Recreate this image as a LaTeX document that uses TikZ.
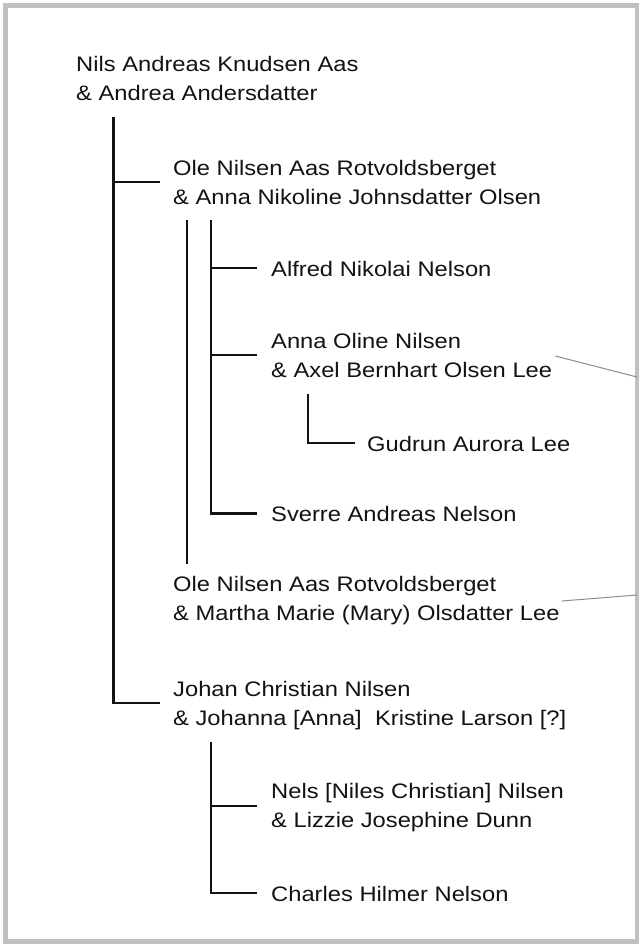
\documentclass[tikz,border=0pt]{standalone}
\usepackage{fontspec}
\setmainfont{Liberation Sans}[FakeStretch=1.13]
\definecolor{framegray}{RGB}{192,192,193}
\definecolor{ink}{RGB}{20,18,19}
\definecolor{linkgray}{RGB}{140,140,140}
\begin{document}
\begin{tikzpicture}[x=1pt,y=-1pt,
  person/.style={anchor=base west, inner sep=0pt, align=left, text=ink,
    font=\fontsize{21}{28.7}\selectfont},
  tree/.style={draw=ink, line width=2.4pt},
  link/.style={draw=linkgray, line width=1pt}]
\useasboundingbox (0,0) rectangle (638,946);
\fill[white] (0,0) rectangle (638,946);
\draw[framegray, line width=4.6pt] (5.2,5.2) rectangle (637.6,941.6);

% people (two-line nodes are placed by the baseline of their last line)
\node[person] (root) at (76,100) {Nils Andreas Knudsen Aas\\\& Andrea Andersdatter};
\node[person] (ole1) at (173,204) {Ole Nilsen Aas Rotvoldsberget\\\& Anna Nikoline Johnsdatter Olsen};
\node[person] (alfred) at (271,276.5) {Alfred Nikolai Nelson};
\node[person] (anna) at (271,377) {Anna Oline Nilsen\\\& Axel Bernhart Olsen Lee};
\node[person] (gudrun) at (367,451.5) {Gudrun Aurora Lee};
\node[person] (sverre) at (271,521.7) {Sverre Andreas Nelson};
\node[person] (ole2) at (173,620) {Ole Nilsen Aas Rotvoldsberget\\\& Martha Marie (Mary) Olsdatter Lee};
\node[person] (johan) at (173,725) {Johan Christian Nilsen\\\& Johanna [Anna]\ \ Kristine Larson [?]};
\node[person] (nels) at (271,827) {Nels [Niles Christian] Nilsen\\\& Lizzie Josephine Dunn};
\node[person] (charles) at (271,901.7) {Charles Hilmer Nelson};

% junction coordinates
\coordinate (rtop) at (113.5,117);
\coordinate (rOle) at (160,182);
\coordinate (rJoh) at (160,703);
\coordinate (aTop) at (187,220);
\coordinate (aBot) at (187,564);
\coordinate (bTop) at (211,220);
\coordinate (bAlf) at (257,268);
\coordinate (bAnn) at (257,355);
\coordinate (bSve) at (257,513.5);
\coordinate (gTop) at (307.7,394);
\coordinate (gGud) at (355,443);
\coordinate (cTop) at (211,742);
\coordinate (cNel) at (257,806);
\coordinate (cCha) at (257,893);
\coordinate (e1) at (637,377);
\coordinate (e2) at (637,595);
\coordinate (s1) at (553,356);
\coordinate (s2) at (557,601);

% tree lines
\draw[tree] (rtop) |- (rJoh);
\draw[tree] (rtop |- rOle) -- (rOle);
\draw[tree] (aTop) -- (aBot);
\draw[tree] (bTop) |- (bSve);
\draw[tree] (bTop |- bAlf) -- (bAlf);
\draw[tree] (bTop |- bAnn) -- (bAnn);
\draw[tree] (gTop) |- (gGud);
\draw[tree] (cTop) |- (cCha);
\draw[tree] (cTop |- cNel) -- (cNel);

% links to the frame
\draw[link] (s1 -| anna.east) ++(3,0) -- (e1);
\draw[link] (s2 -| ole2.east) ++(2,0) -- (e2);
\end{tikzpicture}
\end{document}
